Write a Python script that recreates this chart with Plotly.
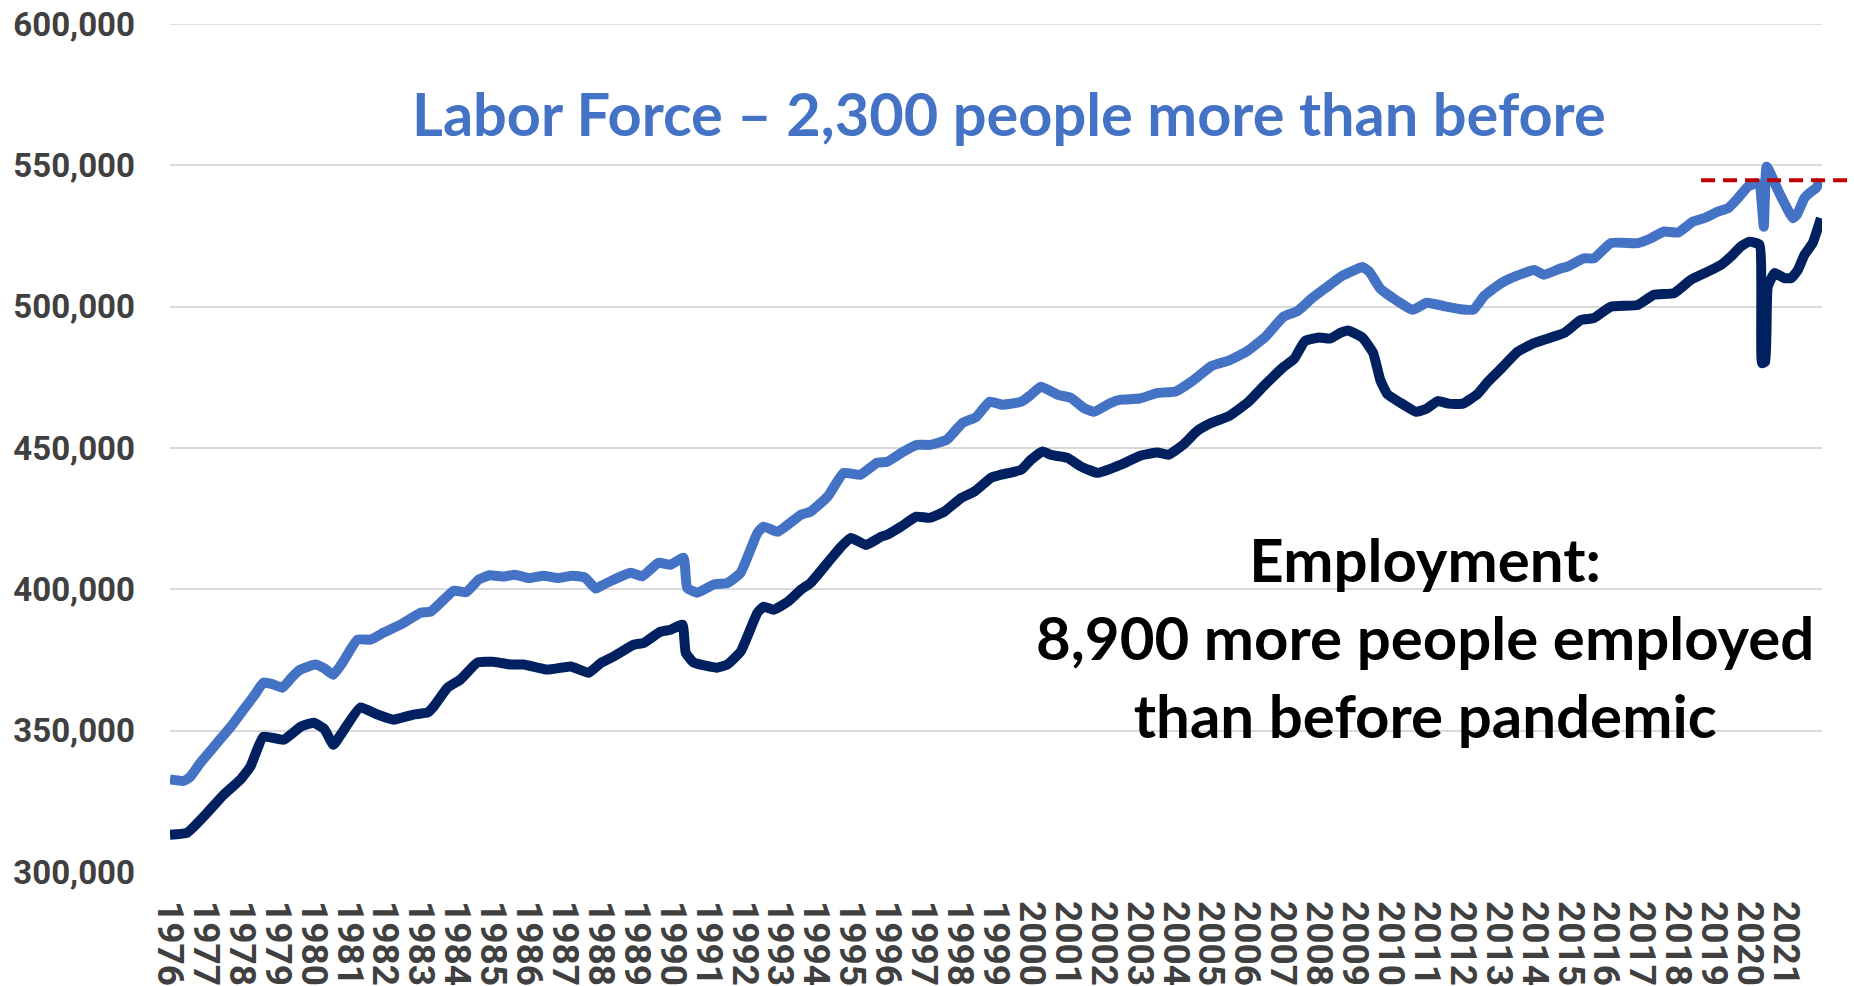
import plotly.graph_objects as go

# ---- data (decimal year, persons) ----
lf_years = [1976.00, 1976.38, 1976.55, 1976.85, 1977.32, 1977.70, 1978.05, 1978.35, 1978.60, 1978.85,
            1979.13, 1979.40, 1979.63, 1980.05, 1980.30, 1980.55, 1980.80, 1981.22, 1981.58, 1981.95,
            1982.42, 1982.98, 1983.26, 1983.62, 1983.90, 1984.25, 1984.60, 1984.90, 1985.30, 1985.60,
            1986.00, 1986.40, 1986.80, 1987.20, 1987.55, 1987.85, 1988.00, 1988.35, 1988.83, 1989.15,
            1989.60, 1989.94, 1990.30, 1990.40, 1990.68, 1991.14, 1991.53, 1991.89, 1992.36, 1992.53,
            1992.92, 1993.57, 1993.84, 1994.31, 1994.76, 1995.22, 1995.69, 1995.97, 1996.41, 1996.80,
            1997.16, 1997.63, 1998.07, 1998.45, 1998.82, 1999.18, 1999.71, 1999.97, 2000.25, 2000.72,
            2001.08, 2001.44, 2001.73, 2002.20, 2002.48, 2003.00, 2003.50, 2004.00, 2004.50, 2005.00,
            2005.50, 2006.00, 2006.50, 2007.00, 2007.40, 2007.80, 2008.20, 2008.60, 2009.00, 2009.20,
            2009.40, 2009.70, 2010.20, 2010.60, 2011.00, 2011.50, 2012.00, 2012.30, 2012.60, 2013.06,
            2013.34, 2013.98, 2014.26, 2014.73, 2014.92, 2015.37, 2015.65, 2016.12, 2016.87, 2017.24,
            2017.60, 2017.99, 2018.41, 2018.72, 2019.10, 2019.38, 2019.66, 2019.94, 2020.16, 2020.26,
            2020.38, 2020.46, 2020.77, 2021.05, 2021.19, 2021.30, 2021.51, 2021.70, 2021.83, 2021.97]
labor_force = [332700, 332200, 333500, 338700, 345800, 351500, 357500, 362500, 367000, 366500,
               365200, 369000, 371600, 373400, 372000, 369800, 374000, 382200, 382200, 384700,
               387500, 391700, 392100, 396300, 399500, 399000, 403500, 405000, 404500, 405200,
               404000, 404800, 404000, 404800, 404200, 400300, 401200, 403400, 405900, 404600,
               409400, 408700, 411200, 400500, 398800, 401700, 402300, 405900, 420000, 422200,
               420400, 426400, 427500, 432800, 441200, 440500, 444800, 445100, 448600, 451100,
               451100, 452900, 458900, 461000, 466400, 465300, 466400, 468800, 471700, 468800,
               467800, 464200, 462800, 466000, 467100, 467500, 469500, 470000, 474000, 479000,
               481000, 484300, 489300, 496400, 498500, 503000, 506800, 510600, 513000, 514000,
               512300, 506400, 501800, 498900, 501400, 500100, 499000, 499000, 503900, 508300,
               510100, 513000, 511300, 513600, 514200, 517100, 517100, 522500, 522500, 524200,
               526600, 526200, 530100, 531300, 533600, 534800, 538400, 542500, 543700, 543100,
               528300, 549500, 541300, 534200, 531300, 532500, 538400, 540700, 541900, 544800]

emp_years = [1976.00, 1976.48, 1977.04, 1977.50, 1977.96, 1978.24, 1978.60, 1979.16, 1979.64, 1980.00,
             1980.30, 1980.55, 1980.75, 1981.30, 1981.78, 1982.22, 1982.78, 1983.17, 1983.34, 1983.73,
             1984.09, 1984.56, 1985.00, 1985.48, 1985.85, 1986.50, 1987.16, 1987.66, 1988.00, 1988.36,
             1988.91, 1989.20, 1989.66, 1989.94, 1990.27, 1990.36, 1990.58, 1991.24, 1991.52, 1991.89,
             1992.36, 1992.53, 1992.81, 1993.20, 1993.57, 1993.84, 1994.31, 1994.68, 1994.96, 1995.38,
             1995.80, 1995.97, 1996.36, 1996.78, 1997.15, 1997.56, 1998.04, 1998.40, 1998.87, 1999.15,
             1999.70, 1999.97, 2000.30, 2000.52, 2000.99, 2001.36, 2001.83, 2002.48, 2003.00, 2003.50,
             2003.80, 2004.20, 2004.60, 2005.00, 2005.50, 2006.00, 2006.50, 2007.00, 2007.30, 2007.60,
             2008.00, 2008.30, 2008.60, 2008.80, 2009.20, 2009.50, 2009.70, 2009.90, 2010.30, 2010.70,
             2011.00, 2011.30, 2011.60, 2012.00, 2012.40, 2012.70, 2013.06, 2013.53, 2013.98, 2014.26,
             2014.82, 2015.29, 2015.65, 2016.12, 2016.87, 2017.32, 2017.88, 2018.35, 2018.82, 2019.19,
             2019.46, 2019.74, 2019.98, 2020.26, 2020.33, 2020.42, 2020.49, 2020.68, 2020.95, 2021.14,
             2021.33, 2021.51, 2021.74, 2021.97]
employment = [313200, 313900, 321000, 327400, 332700, 337300, 347900, 346800, 351400, 352800,
              350500, 345000, 348500, 358200, 355700, 353900, 355700, 356400, 358500, 365200,
              368100, 374100, 374400, 373400, 373400, 371600, 372700, 370500, 374000, 376300,
              380400, 381100, 385000, 385700, 387500, 377600, 374100, 372300, 373400, 378000,
              391800, 393900, 392800, 395600, 399900, 402300, 409400, 415000, 418200, 415700,
              418600, 419300, 422200, 425700, 425300, 427500, 432400, 434600, 439500, 440600,
              442300, 445800, 448800, 447600, 446500, 443500, 441200, 444100, 447200, 448400,
              447600, 451000, 456000, 458900, 461400, 466000, 472500, 478600, 481500, 487800,
              489100, 488700, 490800, 491600, 489100, 483700, 474100, 469000, 465700, 462800,
              464000, 466600, 465700, 465700, 469000, 473500, 478000, 484100, 487100, 488300,
              490700, 495300, 496000, 500000, 500600, 504200, 504800, 509500, 512400, 514800,
              517700, 521300, 523000, 521900, 480000, 480500, 507100, 511900, 510100, 510100,
              513000, 518300, 522500, 531300]

tick_years = list(range(1976, 2022))
tick_labels = [str(y) for y in tick_years]
prepandemic_labor_force = 544700

BLUE = "#4472C4"
NAVY = "#002060"

fig = go.Figure()
fig.add_trace(go.Scatter(x=lf_years, y=labor_force, mode="lines", name="Labor Force",
                         line=dict(color=BLUE, width=10, shape="spline", smoothing=0.4)))
fig.add_trace(go.Scatter(x=emp_years, y=employment, mode="lines", name="Employment",
                         line=dict(color=NAVY, width=10, shape="spline", smoothing=0.4)))

fig.add_shape(type="line", xref="paper", yref="y", x0=0.9268, x1=1.02,
              y0=prepandemic_labor_force, y1=prepandemic_labor_force,
              line=dict(color="#C00000", width=4, dash="14px,8px"), layer="above")

fig.add_annotation(text="Labor Force \u2013 2,300 people more than before",
                   xref="paper", yref="paper", x=0.508, y=0.895,
                   xanchor="center", yanchor="middle", showarrow=False,
                   font=dict(family="Lato", size=59.5, color=BLUE, weight="bold"))
fig.add_annotation(text="Employment:<br>8,900 more people employed<br>than before pandemic",
                   xref="paper", yref="paper", x=0.7597, y=0.2771,
                   xanchor="center", yanchor="middle", showarrow=False, align="center",
                   font=dict(family="Lato", size=60, color="#000000", weight="bold"))

fig.update_layout(
    width=1854, height=986,
    margin=dict(l=170, r=32, t=24, b=114),
    paper_bgcolor="white", plot_bgcolor="white",
    showlegend=False,
    xaxis=dict(range=[1976, 2022.0], tickmode="array", tickvals=tick_years, ticktext=tick_labels,
               tickangle=90, showgrid=False, zeroline=False, showline=False, ticks="",
               ticklabelstandoff=28, automargin=False,
               tickfont=dict(family="Roboto", size=37, color="#404040", weight="bold")),
    yaxis=dict(range=[300000, 600000], tickvals=[300000, 350000, 400000, 450000, 500000, 550000, 600000],
               tickformat=",", showgrid=True, gridcolor="#D9D9D9", gridwidth=1.5,
               zeroline=False, showline=False, ticks="", ticklabelstandoff=34, automargin=False,
               tickfont=dict(family="Roboto", size=33, color="#404040", weight="bold")),
)

# top gridline at 600,000 (plotly skips the grid line lying on the plot edge)
fig.add_shape(type="line", xref="paper", yref="y", x0=0, x1=1, y0=600000, y1=600000,
              line=dict(color="#D9D9D9", width=1.5), layer="below")

fig.write_html("out.html", config={"displayModeBar": False},
               post_script="document.body.style.margin='0';document.body.style.overflow='hidden';")
